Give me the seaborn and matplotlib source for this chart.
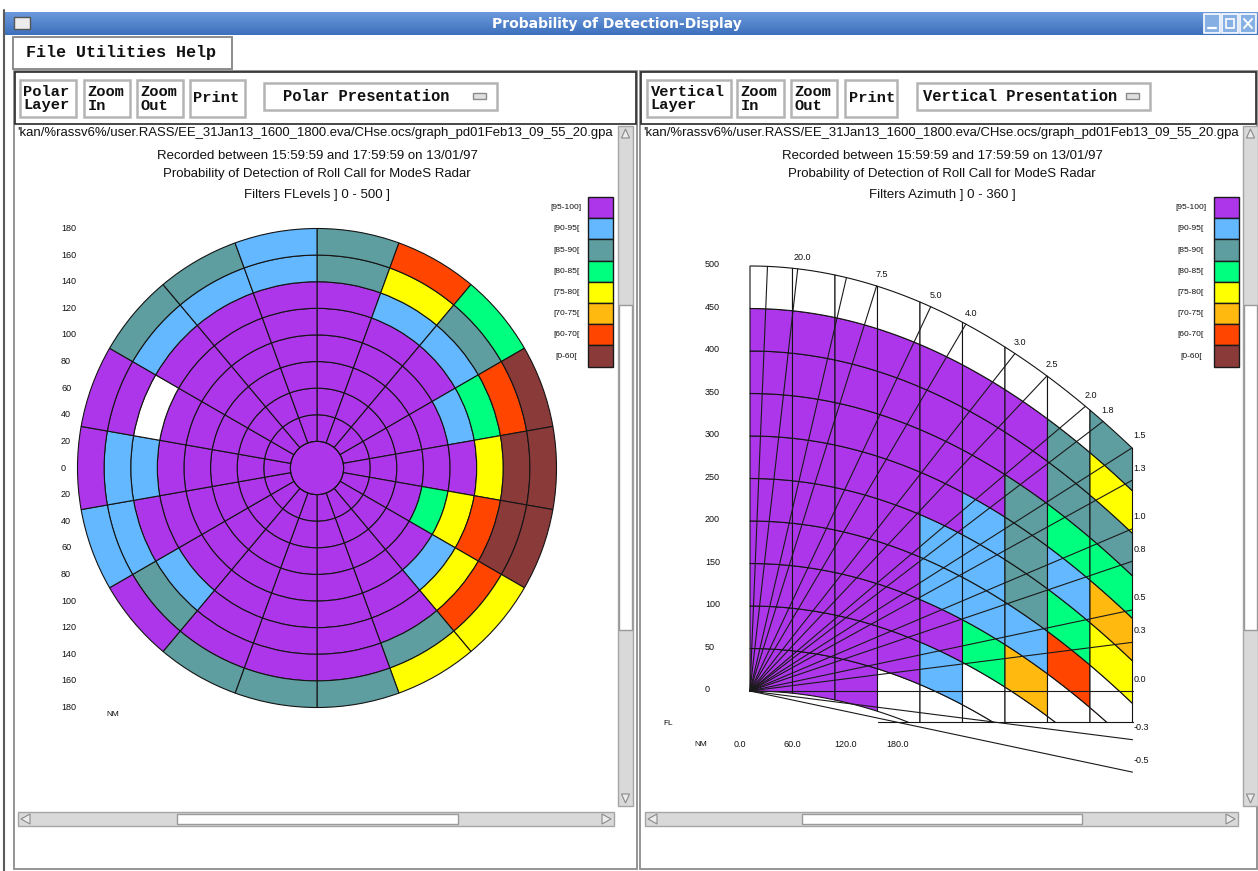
import numpy as np
import matplotlib
matplotlib.use("Agg")
import matplotlib.pyplot as plt
from matplotlib.patches import Rectangle, Polygon
import seaborn as sns

sns.set_theme(style="white")
plt.rcParams["font.family"] = ["Liberation Sans", "DejaVu Sans"]

W, H = 1258, 871

# ---------------------------------------------------------------- classes
class_codes = ["P", "B", "T", "G", "Y", "O", "R", "N"]
class_labels = ["[95-100]", "[90-95[", "[85-90[", "[80-85[",
                "[75-80[", "[70-75[", "[60-70[", "[0-60["]
class_hex = ["#AD36EA", "#63B8FF", "#5F9EA0", "#00FF7F",
             "#FFFF00", "#FFB90F", "#FF4500", "#8B3A3A"]
palette = dict(zip(class_codes, sns.color_palette(class_hex)))
palette["."] = (1.0, 1.0, 1.0)          # no data

# ---------------------------------------------------------------- polar layer
# range rings in NM, 20-degree azimuth sectors clockwise from north
ring_edges_nm = [0, 20, 40, 60, 80, 100, 120, 140, 160, 180]
sector_deg = 20
polar_000_020 = "P"
polar_020_040 = "PPPPPPPPPPPPPPPPPP"
polar_040_060 = "PPPPPPPPPPPPPPPPPP"
polar_060_080 = "PPPPPPPPPPPPPPPPPP"
polar_080_100 = "PPPPPGPPPPPPPPPPPP"
polar_100_120 = "PPPBPYBPPPPPPPPPPP"
polar_120_140 = "PBBGYRYPPPPBPB.PPP"
polar_140_160 = "TYTRNNRTPPPTBBPBBB"
polar_160_180 = "TRGNNNYYTTTPBPPTTB"
polar_rings = [polar_020_040, polar_040_060, polar_060_080, polar_080_100,
               polar_100_120, polar_120_140, polar_140_160, polar_160_180]
polar_axis_ticks = [180, 160, 140, 120, 100, 80, 60, 40, 20, 0,
                    -20, -40, -60, -80, -100, -120, -140, -160, -180]

# ---------------------------------------------------------------- vertical layer
# columns of 20 NM, rows of 50 FL (bottom to top)
col_edges_nm = [0, 20, 40, 60, 80, 100, 120, 140, 160, 180]
fl_edges = [0, 50, 100, 150, 200, 250, 300, 350, 400, 450, 500]
vert_000_020 = "PPPPPPPPP."
vert_020_040 = "PPPPPPPPP."
vert_040_060 = "PPPPPPPPP."
vert_060_080 = ".PPPPPPPP."
vert_080_100 = ".BPBBPPPP."
vert_100_120 = "..GBBBPPP."
vert_120_140 = "..OBTTTPP."
vert_140_160 = "...RGBGTT."
vert_160_180 = "....YOGTYT"
vert_cols = [vert_000_020, vert_020_040, vert_040_060, vert_060_080, vert_080_100,
             vert_100_120, vert_120_140, vert_140_160, vert_160_180]
elevations = [45, 20, 10, 7.5, 5.0, 4.0, 3.0, 2.5, 2.0, 1.8, 1.5, 1.3,
              1.0, 0.8, 0.5, 0.3, 0.0, -0.3, -0.5]
elev_labels = ["", "20.0", "", "7.5", "5.0", "4.0", "3.0", "2.5", "2.0", "1.8",
               "1.5", "1.3", "1.0", "0.8", "0.5", "0.3", "0.0", "-0.3", "-0.5"]
fl_ticks = [0, 50, 100, 150, 200, 250, 300, 350, 400, 450, 500]
nm_ticks = [0.0, 60.0, 120.0, 180.0]

FL_PER_NM = 60.76                                  # 1 NM expressed in flight levels
CURV = (1.852 ** 2) / (2 * 8494.0) * 3280.84 / 100  # 4/3-earth drop, FL per NM^2
FL_FLOOR = -36.5                                   # lowest drawn apparent level

# ---------------------------------------------------------------- figure
fig = plt.figure(figsize=(W / 100, H / 100), dpi=100, facecolor="white")
ui = fig.add_axes([0, 0, 1, 1])
ui.axis("off")


def px_axes(x0, y0, x1, y1, **kw):
    return fig.add_axes([x0 / W, 1 - y1 / H, (x1 - x0) / W, (y1 - y0) / H], **kw)


def box(x0, y0, x1, y1, fc="none", ec="none", lw=1.0, z=2):
    ui.add_patch(Rectangle((x0, y0), x1 - x0, y1 - y0, facecolor=fc,
                           edgecolor=ec, linewidth=lw, zorder=z))


MONO = dict(family="Liberation Mono", fontweight="bold", color="#111111")

# window frame and title bar
ui.plot([4, 4], [10, H], color="#5a5a5a", lw=1.5, zorder=3)
grad = np.linspace(0, 1, 24)[:, None, None]
top_c = np.array([0.42, 0.60, 0.86])
bot_c = np.array([0.24, 0.44, 0.74])
ui.imshow(top_c + (bot_c - top_c) * grad, extent=(5, W, 35, 12),
          aspect="auto", zorder=1, interpolation="bilinear")
box(14, 17, 30, 29, fc="#ececec", ec="#555555", lw=1.0, z=3)
ui.text(617, 24, "Probability of Detection-Display", color="white",
        fontweight="bold", fontsize=10, ha="center", va="center",
        family="DejaVu Sans", zorder=4)
for i, x0 in enumerate([1204, 1222, 1240]):
    box(x0, 14, x0 + 16, 33, fc="#86b0e4", ec="white", lw=1.2, z=3)
ui.plot([1208, 1216], [28, 28], color="white", lw=1.6, zorder=4)
box(1226, 19, 1234, 28, ec="white", lw=1.2, z=4)
ui.plot([1244, 1252], [19, 28], color="white", lw=1.4, zorder=4)
ui.plot([1244, 1252], [28, 19], color="white", lw=1.4, zorder=4)

# menu bar
box(13, 37, 232, 69, fc="white", ec="#8c8c8c", lw=1.4)
ui.text(26, 53, "File Utilities Help", fontsize=12.1, ha="left", va="center", **MONO)

# panels
for (px0, px1) in [(14, 637), (640, 1257)]:
    box(px0, 71, px1, 869, ec="#8c8c8c", lw=1.3)
    box(px0 + 1, 72, px1 - 1, 124, ec="#2a2a2a", lw=1.2)

left_buttons = [("Polar\nLayer", 20, 76), ("Zoom\nIn", 84, 130),
                ("Zoom\nOut", 137, 183), ("Print", 190, 245)]
right_buttons = [("Vertical\nLayer", 647, 731), ("Zoom\nIn", 737, 784),
                 ("Zoom\nOut", 791, 837), ("Print", 845, 897)]
for label, x0, x1 in left_buttons + right_buttons:
    box(x0, 80, x1, 117, fc="white", ec="#b4b4b4", lw=1.8)
    ui.text(x0 + 3.5, 98.5, label, fontsize=11.1, ha="left", va="center",
            linespacing=1.0, **MONO)

for (x0, x1, label, tx) in [(264, 497, "Polar Presentation", 283),
                            (917, 1150, "Vertical Presentation", 923)]:
    box(x0, 83, x1, 110, fc="white", ec="#b4b4b4", lw=1.8)
    ui.text(tx, 96.5, label, fontsize=11.2, ha="left", va="center", **MONO)
    box(x1 - 24, 93, x1 - 11, 99, fc="#e0e0e0", ec="#8a8a8a", lw=1.0, z=3)

# header texts
path = "'kan/%rassv6%/user.RASS/EE_31Jan13_1600_1800.eva/CHse.ocs/graph_pd01Feb13_09_55_20.gpa"
for x_path, xc, filt in [(17, 317, "Filters FLevels ] 0 - 500 ]"),
                         (643, 942, "Filters Azimuth ] 0 - 360 ]")]:
    ui.text(x_path, 133, path, fontsize=9.45, ha="left", va="center", color="#111111")
    ui.text(xc, 156, "Recorded between 15:59:59 and 17:59:59 on 13/01/97",
            fontsize=9.5, ha="center", va="center", color="#111111")
    ui.text(xc, 174, "Probability of Detection of Roll Call for ModeS Radar",
            fontsize=9.5, ha="center", va="center", color="#111111")
    ui.text(xc, 195, filt, fontsize=9.5, ha="center", va="center", color="#111111")


# scrollbars
def vscroll(x0, x1, y0, y1, t0, t1):
    box(x0, y0, x1, y1, fc="#d9d9d9", ec="#a5a5a5", lw=1.0)
    box(x0 + 1, t0, x1 - 1, t1, fc="white", ec="#9a9a9a", lw=1.0, z=3)
    xm = (x0 + x1) / 2
    ui.add_patch(Polygon([[xm - 4, y0 + 12], [xm, y0 + 3], [xm + 4, y0 + 12]],
                         closed=True, fc="#ececec", ec="#8a8a8a", lw=0.8, zorder=3))
    ui.add_patch(Polygon([[xm - 4, y1 - 12], [xm, y1 - 3], [xm + 4, y1 - 12]],
                         closed=True, fc="#ececec", ec="#8a8a8a", lw=0.8, zorder=3))


def hscroll(x0, x1, y0, y1, t0, t1):
    box(x0, y0, x1, y1, fc="#d9d9d9", ec="#a5a5a5", lw=1.0)
    box(t0, y0 + 2, t1, y1 - 2, fc="white", ec="#9a9a9a", lw=1.0, z=3)
    ym = (y0 + y1) / 2
    ui.add_patch(Polygon([[x0 + 12, ym - 5], [x0 + 3, ym], [x0 + 12, ym + 5]],
                         closed=True, fc="#ececec", ec="#8a8a8a", lw=0.8, zorder=3))
    ui.add_patch(Polygon([[x1 - 12, ym - 5], [x1 - 3, ym], [x1 - 12, ym + 5]],
                         closed=True, fc="#ececec", ec="#8a8a8a", lw=0.8, zorder=3))


vscroll(618, 633, 126, 806, 305, 630)
vscroll(1243, 1258, 126, 806, 305, 630)
hscroll(18, 614, 812, 826, 177, 458)
hscroll(645, 1238, 812, 826, 802, 1082)


# legends
def legend(x_box, x_lab):
    for k, (lab, col) in enumerate(zip(class_labels, class_hex)):
        y0 = 197 + 21.2 * k
        box(x_box, y0, x_box + 25, y0 + 21.2, fc=col, ec="#1a1a1a", lw=1.0, z=3)
        ui.text(x_lab, y0 + 10.6, lab, fontsize=6, ha="center", va="center",
                color="#111111")


legend(588, 566)
legend(1214, 1191)

ui.set_xlim(0, W)
ui.set_ylim(H, 0)

# ---------------------------------------------------------------- polar chart
CX, CY, R = 317, 468, 239.5
pol = px_axes(CX - R, CY - R, CX + R, CY + R, projection="polar")
pol.set_theta_zero_location("N")
pol.set_theta_direction(-1)
pol.set_ylim(0, ring_edges_nm[-1])
pol.axis("off")

n_sect = 360 // sector_deg
thetas = np.deg2rad(np.arange(n_sect) * sector_deg + sector_deg / 2)
pol.bar(0, ring_edges_nm[1], width=2 * np.pi, bottom=0,
        color=palette[polar_000_020], edgecolor="none", clip_on=False)
circ = np.linspace(0, 2 * np.pi, 300)
pol.plot(circ, np.full_like(circ, ring_edges_nm[1]), color="#141414", lw=0.8,
         clip_on=False)
for ri, ring in enumerate(polar_rings):
    r0 = ring_edges_nm[ri + 1]
    pol.bar(thetas, ring_edges_nm[ri + 2] - r0, width=np.deg2rad(sector_deg),
            bottom=r0, color=[palette[c] for c in ring], edgecolor="#141414",
            linewidth=0.8, clip_on=False)

pol_lab = px_axes(CX - R, CY - R, CX + R, CY + R)
pol_lab.set_xlim(-180, 180)
pol_lab.set_ylim(-180, 180)
pol_lab.axis("off")
for v in polar_axis_ticks:
    pol_lab.text(-192.4, v, str(abs(v)), fontsize=6.5, ha="left", va="center",
                 color="#111111", clip_on=False)
ui.text(106, 714, "NM", fontsize=6, ha="left", va="center", color="#111111")

# ---------------------------------------------------------------- vertical chart
X0_PX, FL0_PX, PX_NM, PX_FL = 750, 691, 2.125, 0.85
vx0, vx1, vy0, vy1 = 640, 1240, 240, 800
vert = px_axes(vx0, vy0, vx1, vy1)
vert.set_xlim((vx0 - X0_PX) / PX_NM, (vx1 - X0_PX) / PX_NM)
vert.set_ylim((FL0_PX - vy1) / PX_FL, (FL0_PX - vy0) / PX_FL)
vert.axis("off")

floor_clip = Rectangle((-10, FL_FLOOR), 260, 700, transform=vert.transData)


def apparent(fl, d):
    return fl - CURV * d ** 2


for j, col in enumerate(vert_cols):
    d0, d1 = col_edges_nm[j], col_edges_nm[j + 1]
    ds = np.linspace(d0, d1, 40)
    for i, code in enumerate(col):
        f0, f1 = fl_edges[i], fl_edges[i + 1]
        top = apparent(f1, ds)
        bot = apparent(f0, ds)
        if top.max() < FL_FLOOR:
            continue
        pts = np.column_stack([np.r_[ds, ds[::-1]], np.r_[top, bot[::-1]]])
        patch = Polygon(pts, closed=True, facecolor=palette[code],
                        edgecolor="#141414", linewidth=0.8)
        vert.add_patch(patch)
        patch.set_clip_path(floor_clip)

vert.plot([col_edges_nm[3], col_edges_nm[-1]], [FL_FLOOR, FL_FLOOR],
          color="#141414", lw=0.8)

d_max = col_edges_nm[-1]
f_top = fl_edges[-1]
for elev, lab in zip(elevations, elev_labels):
    slope = FL_PER_NM * np.tan(np.deg2rad(elev))
    if elev > 0:
        d_hit = (-slope + np.sqrt(slope ** 2 + 4 * CURV * f_top)) / (2 * CURV)
        d_end = min(d_hit, d_max)
    else:
        d_end = d_max
    vert.plot([0, d_end], [0, slope * d_end], color="#1a1a1a", lw=0.8)
    if lab:
        if d_end < d_max - 0.5:
            vert.annotate(lab, (d_end, slope * d_end), xytext=(5, 11),
                          textcoords="offset pixels", fontsize=6.5,
                          ha="center", va="center", color="#111111")
        else:
            vert.annotate(lab, (d_end, slope * d_end), xytext=(1, 12),
                          textcoords="offset pixels", fontsize=6.5,
                          ha="left", va="center", color="#111111")

for f in fl_ticks:
    vert.text((705 - X0_PX) / PX_NM, f + 1.2, str(f), fontsize=6.5, ha="left",
              va="center", color="#111111")
for v in nm_ticks:
    vert.text(-4.7 + 0.413 * v, (FL0_PX - 744) / PX_FL, f"{v:.1f}", fontsize=6.5,
              ha="center", va="center", color="#111111")
ui.text(663, 723, "FL", fontsize=6, ha="left", va="center", color="#111111")
ui.text(694, 744, "NM", fontsize=6, ha="left", va="center", color="#111111")

fig.savefig("out.png", dpi=100, facecolor="white")
